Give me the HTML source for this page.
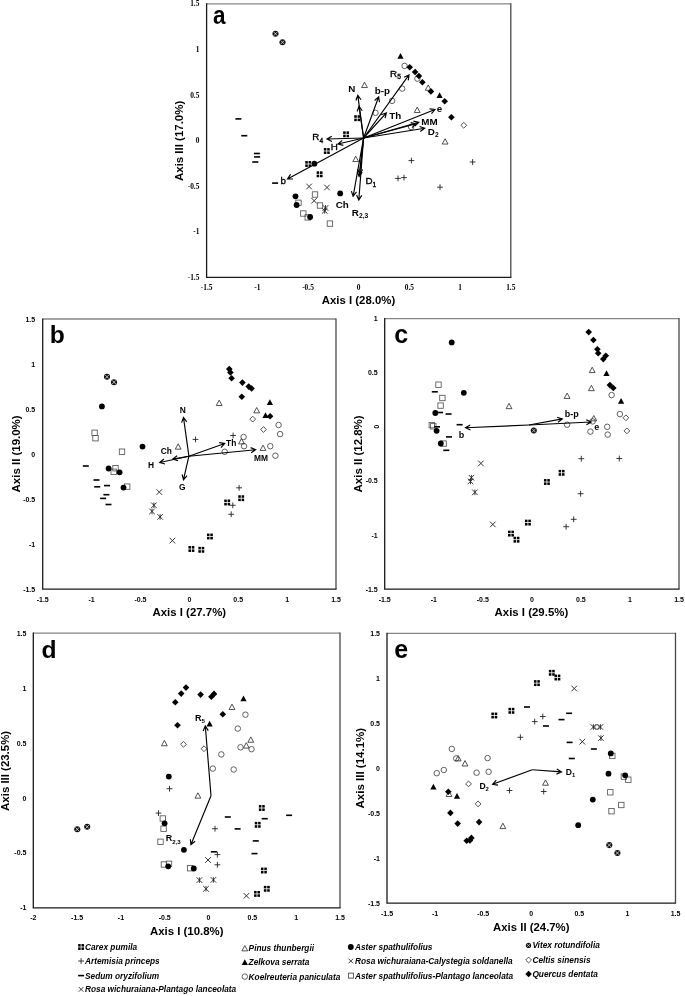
<!DOCTYPE html>
<html><head><meta charset="utf-8"><title>Ordination diagrams</title>
<style>html,body{margin:0;padding:0;background:#fff;}svg{display:block;}</style></head>
<body><svg width="685" height="996" viewBox="0 0 685 996">
<rect width="685" height="996" fill="#fff"/>
<text x="206.60" y="289.90" text-anchor="middle" font-family="Liberation Serif, Times New Roman, serif" font-size="7.4" font-weight="bold">-1.5</text>
<text x="257.30" y="289.90" text-anchor="middle" font-family="Liberation Serif, Times New Roman, serif" font-size="7.4" font-weight="bold">-1</text>
<text x="308.00" y="289.90" text-anchor="middle" font-family="Liberation Serif, Times New Roman, serif" font-size="7.4" font-weight="bold">-0.5</text>
<text x="358.70" y="289.90" text-anchor="middle" font-family="Liberation Serif, Times New Roman, serif" font-size="7.4" font-weight="bold">0</text>
<text x="409.40" y="289.90" text-anchor="middle" font-family="Liberation Serif, Times New Roman, serif" font-size="7.4" font-weight="bold">0.5</text>
<text x="460.10" y="289.90" text-anchor="middle" font-family="Liberation Serif, Times New Roman, serif" font-size="7.4" font-weight="bold">1</text>
<text x="510.80" y="289.90" text-anchor="middle" font-family="Liberation Serif, Times New Roman, serif" font-size="7.4" font-weight="bold">1.5</text>
<text x="199.40" y="6.40" text-anchor="end" font-family="Liberation Serif, Times New Roman, serif" font-size="7.4" font-weight="bold">1.5</text>
<text x="199.40" y="51.97" text-anchor="end" font-family="Liberation Serif, Times New Roman, serif" font-size="7.4" font-weight="bold">1</text>
<text x="199.40" y="97.53" text-anchor="end" font-family="Liberation Serif, Times New Roman, serif" font-size="7.4" font-weight="bold">0.5</text>
<text x="199.40" y="143.10" text-anchor="end" font-family="Liberation Serif, Times New Roman, serif" font-size="7.4" font-weight="bold">0</text>
<text x="199.40" y="188.67" text-anchor="end" font-family="Liberation Serif, Times New Roman, serif" font-size="7.4" font-weight="bold">-0.5</text>
<text x="199.40" y="234.23" text-anchor="end" font-family="Liberation Serif, Times New Roman, serif" font-size="7.4" font-weight="bold">-1</text>
<text x="199.40" y="279.80" text-anchor="end" font-family="Liberation Serif, Times New Roman, serif" font-size="7.4" font-weight="bold">-1.5</text>
<path d="M206.60 3.90H510.80" stroke="#858585" stroke-width="1.3" fill="none"/>
<path d="M510.80 3.30V277.30" stroke="#474747" stroke-width="1.3" fill="none"/>
<path d="M206.60 3.30V277.30H511.40" stroke="#1a1a1a" stroke-width="1.3" fill="none"/>
<text transform="translate(212.9 23.9) scale(0.9 1)" x="0" y="0" font-family="Liberation Sans, Arial, sans-serif" font-size="25" font-weight="bold">a</text>
<text x="358.5" y="304.4" text-anchor="middle" font-family="Liberation Sans, Arial, sans-serif" font-size="11.4" font-weight="bold" textLength="73.4" lengthAdjust="spacingAndGlyphs">Axis I (28.0%)</text>
<text transform="translate(183.10 140.90) rotate(-90)" x="0" y="0" text-anchor="middle" font-family="Liberation Sans, Arial, sans-serif" font-size="11.4" font-weight="bold" textLength="80.2" lengthAdjust="spacingAndGlyphs">Axis III (17.0%)</text>
<circle cx="275.50" cy="33.80" r="3.05" fill="#111"/><path d="M273.60 31.90L277.40 35.70M273.60 35.70L277.40 31.90" stroke="#fff" stroke-width="0.7"/>
<circle cx="282.50" cy="42.30" r="3.05" fill="#111"/><path d="M280.60 40.40L284.40 44.20M280.60 44.20L284.40 40.40" stroke="#fff" stroke-width="0.7"/>
<path d="M463.80 122.40L466.70 125.30L463.80 128.20L460.90 125.30Z" stroke="#333" stroke-width="0.85" fill="#fff"/>
<circle cx="404.60" cy="65.90" r="2.75" stroke="#444" stroke-width="0.85" fill="none"/>
<circle cx="417.40" cy="78.60" r="2.75" stroke="#444" stroke-width="0.85" fill="none"/>
<circle cx="402.20" cy="88.60" r="2.75" stroke="#444" stroke-width="0.85" fill="none"/>
<circle cx="392.10" cy="100.90" r="2.75" stroke="#444" stroke-width="0.85" fill="none"/>
<circle cx="375.50" cy="112.80" r="2.75" stroke="#444" stroke-width="0.85" fill="none"/>
<circle cx="411.10" cy="127.00" r="2.75" stroke="#444" stroke-width="0.85" fill="none"/>
<path d="M364.50 82.20L367.40 87.56L361.60 87.56Z" stroke="#333" stroke-width="0.85" fill="none"/>
<path d="M417.20 107.10L420.10 112.47L414.30 112.47Z" stroke="#333" stroke-width="0.85" fill="none"/>
<path d="M428.20 84.90L431.10 90.27L425.30 90.27Z" stroke="#333" stroke-width="0.85" fill="none"/>
<path d="M445.10 138.70L448.00 144.06L442.20 144.06Z" stroke="#333" stroke-width="0.85" fill="none"/>
<path d="M355.70 156.20L358.60 161.56L352.80 161.56Z" stroke="#333" stroke-width="0.85" fill="none"/>
<rect x="312.30" y="191.80" width="5.4" height="5.4" stroke="#555" stroke-width="0.85" fill="none"/>
<rect x="295.80" y="200.10" width="5.4" height="5.4" stroke="#555" stroke-width="0.85" fill="none"/>
<rect x="317.30" y="202.80" width="5.4" height="5.4" stroke="#555" stroke-width="0.85" fill="none"/>
<rect x="300.60" y="210.80" width="5.4" height="5.4" stroke="#555" stroke-width="0.85" fill="none"/>
<rect x="305.00" y="214.70" width="5.4" height="5.4" stroke="#555" stroke-width="0.85" fill="none"/>
<rect x="327.20" y="220.90" width="5.4" height="5.4" stroke="#555" stroke-width="0.85" fill="none"/>
<path d="M408.50 160.60H414.30M411.40 157.70V163.50" stroke="#222" stroke-width="0.9" fill="none"/>
<path d="M395.10 178.40H400.90M398.00 175.50V181.30" stroke="#222" stroke-width="0.9" fill="none"/>
<path d="M401.10 177.60H406.90M404.00 174.70V180.50" stroke="#222" stroke-width="0.9" fill="none"/>
<path d="M469.70 162.00H475.50M472.60 159.10V164.90" stroke="#222" stroke-width="0.9" fill="none"/>
<path d="M437.10 187.20H442.90M440.00 184.30V190.10" stroke="#222" stroke-width="0.9" fill="none"/>
<path d="M306.30 183.70L311.90 189.30M306.30 189.30L311.90 183.70" stroke="#2a2a2a" stroke-width="0.95" fill="none"/>
<path d="M324.20 184.70L329.80 190.30M324.20 190.30L329.80 184.70" stroke="#2a2a2a" stroke-width="0.95" fill="none"/>
<path d="M311.30 197.90L316.90 203.50M311.30 203.50L316.90 197.90" stroke="#2a2a2a" stroke-width="0.95" fill="none"/>
<path d="M322.70 205.20L328.30 210.80M322.70 210.80L328.30 205.20M325.50 205.20V210.80" stroke="#222" stroke-width="0.9" fill="none"/>
<path d="M321.90 208.10L327.50 213.70M321.90 213.70L327.50 208.10M324.70 208.10V213.70" stroke="#222" stroke-width="0.9" fill="none"/>
<rect x="235.40" y="118.10" width="6" height="1.6" fill="#000"/>
<rect x="241.30" y="134.90" width="6" height="1.6" fill="#000"/>
<rect x="253.90" y="152.70" width="6" height="1.6" fill="#000"/>
<rect x="254.10" y="156.10" width="6" height="1.6" fill="#000"/>
<rect x="252.30" y="161.20" width="6" height="1.6" fill="#000"/>
<rect x="272.10" y="182.30" width="6" height="1.6" fill="#000"/>
<g fill="#000"><rect x="354.25" y="115.25" width="2.55" height="2.55"/><rect x="354.25" y="118.60" width="2.55" height="2.55"/><rect x="357.60" y="115.25" width="2.55" height="2.55"/><rect x="357.60" y="118.60" width="2.55" height="2.55"/></g>
<g fill="#000"><rect x="343.15" y="131.35" width="2.55" height="2.55"/><rect x="343.15" y="134.70" width="2.55" height="2.55"/><rect x="346.50" y="131.35" width="2.55" height="2.55"/><rect x="346.50" y="134.70" width="2.55" height="2.55"/></g>
<g fill="#000"><rect x="323.85" y="148.05" width="2.55" height="2.55"/><rect x="323.85" y="151.40" width="2.55" height="2.55"/><rect x="327.20" y="148.05" width="2.55" height="2.55"/><rect x="327.20" y="151.40" width="2.55" height="2.55"/></g>
<g fill="#000"><rect x="305.25" y="161.05" width="2.55" height="2.55"/><rect x="305.25" y="164.40" width="2.55" height="2.55"/><rect x="308.60" y="161.05" width="2.55" height="2.55"/><rect x="308.60" y="164.40" width="2.55" height="2.55"/></g>
<g fill="#000"><rect x="316.65" y="171.35" width="2.55" height="2.55"/><rect x="316.65" y="174.70" width="2.55" height="2.55"/><rect x="320.00" y="171.35" width="2.55" height="2.55"/><rect x="320.00" y="174.70" width="2.55" height="2.55"/></g>
<path d="M400.50 52.90L403.60 58.63L397.40 58.63Z" fill="#000"/>
<path d="M439.60 92.30L442.70 98.04L436.50 98.04Z" fill="#000"/>
<circle cx="314.40" cy="163.70" r="2.9" fill="#000"/>
<circle cx="295.50" cy="196.30" r="2.9" fill="#000"/>
<circle cx="296.60" cy="205.00" r="2.9" fill="#000"/>
<circle cx="310.10" cy="217.00" r="2.9" fill="#000"/>
<circle cx="340.20" cy="193.40" r="2.9" fill="#000"/>
<path d="M409.70 63.90L413.00 67.20L409.70 70.50L406.40 67.20Z" fill="#000"/>
<path d="M415.10 68.70L418.40 72.00L415.10 75.30L411.80 72.00Z" fill="#000"/>
<path d="M418.90 72.70L422.20 76.00L418.90 79.30L415.60 76.00Z" fill="#000"/>
<path d="M422.40 78.90L425.70 82.20L422.40 85.50L419.10 82.20Z" fill="#000"/>
<path d="M430.90 88.10L434.20 91.40L430.90 94.70L427.60 91.40Z" fill="#000"/>
<path d="M444.70 97.90L448.00 101.20L444.70 104.50L441.40 101.20Z" fill="#000"/>
<path d="M451.40 113.90L454.70 117.20L451.40 120.50L448.10 117.20Z" fill="#000"/>
<path d="M363.60 138.00L327.00 139.00M331.92 141.45L327.00 139.00L331.78 136.29" stroke="#000" stroke-width="1.15" fill="none" stroke-linejoin="miter"/>
<path d="M363.60 138.00L338.00 144.00M343.32 145.41L338.00 144.00L342.14 140.38" stroke="#000" stroke-width="1.15" fill="none" stroke-linejoin="miter"/>
<path d="M363.60 138.00L287.50 179.00M293.00 178.97L287.50 179.00L290.55 174.42" stroke="#000" stroke-width="1.15" fill="none" stroke-linejoin="miter"/>
<path d="M363.60 138.00L357.80 95.30M355.90 100.46L357.80 95.30L361.01 99.76" stroke="#000" stroke-width="1.15" fill="none" stroke-linejoin="miter"/>
<path d="M363.60 138.00L359.00 106.30M357.14 111.48L359.00 106.30L362.25 110.74" stroke="#000" stroke-width="1.15" fill="none" stroke-linejoin="miter"/>
<path d="M363.60 138.00L378.70 96.80M374.60 100.47L378.70 96.80L379.45 102.25" stroke="#000" stroke-width="1.15" fill="none" stroke-linejoin="miter"/>
<path d="M363.60 138.00L409.00 74.90M404.07 77.33L409.00 74.90L408.26 80.35" stroke="#000" stroke-width="1.15" fill="none" stroke-linejoin="miter"/>
<path d="M363.60 138.00L386.40 112.80M381.23 114.67L386.40 112.80L385.06 118.13" stroke="#000" stroke-width="1.15" fill="none" stroke-linejoin="miter"/>
<path d="M363.60 138.00L435.00 109.50M429.53 108.90L435.00 109.50L431.45 113.70" stroke="#000" stroke-width="1.15" fill="none" stroke-linejoin="miter"/>
<path d="M363.60 138.00L418.80 122.30M413.42 121.14L418.80 122.30L414.84 126.11" stroke="#000" stroke-width="1.15" fill="none" stroke-linejoin="miter"/>
<path d="M363.60 138.00L416.00 123.80M410.64 122.58L416.00 123.80L411.99 127.56" stroke="#000" stroke-width="1.15" fill="none" stroke-linejoin="miter"/>
<path d="M363.60 138.00L424.70 128.20M419.50 126.42L424.70 128.20L420.31 131.52" stroke="#000" stroke-width="1.15" fill="none" stroke-linejoin="miter"/>
<path d="M363.60 138.00L359.10 176.60M362.23 172.08L359.10 176.60L357.10 171.48" stroke="#000" stroke-width="1.15" fill="none" stroke-linejoin="miter"/>
<path d="M363.60 138.00L359.60 174.00M362.70 169.46L359.60 174.00L357.57 168.89" stroke="#000" stroke-width="1.15" fill="none" stroke-linejoin="miter"/>
<path d="M363.60 138.00L353.10 196.30M356.50 191.98L353.10 196.30L351.42 191.06" stroke="#000" stroke-width="1.15" fill="none" stroke-linejoin="miter"/>
<path d="M363.60 138.00L358.80 200.00M361.75 195.36L358.80 200.00L356.60 194.96" stroke="#000" stroke-width="1.15" fill="none" stroke-linejoin="miter"/>
<text x="312.36" y="140.43" font-family="Liberation Sans, Arial, sans-serif" font-size="9.8" font-weight="normal" stroke="#000" stroke-width="0.35">R<tspan font-size="6.66" dy="2.35">4</tspan></text>
<text x="334.30" y="150.43" text-anchor="middle" font-family="Liberation Sans, Arial, sans-serif" font-size="9.8" font-weight="normal" stroke="#000" stroke-width="0.35">H</text>
<text x="283.30" y="183.73" text-anchor="middle" font-family="Liberation Sans, Arial, sans-serif" font-size="9.8" font-weight="normal" stroke="#000" stroke-width="0.35">b</text>
<text x="351.70" y="92.03" text-anchor="middle" font-family="Liberation Sans, Arial, sans-serif" font-size="9.8" font-weight="bold">N</text>
<text x="382.30" y="93.53" text-anchor="middle" font-family="Liberation Sans, Arial, sans-serif" font-size="9.8" font-weight="bold">b-p</text>
<text x="390.06" y="76.63" font-family="Liberation Sans, Arial, sans-serif" font-size="9.8" font-weight="normal" stroke="#000" stroke-width="0.35">R<tspan font-size="6.66" dy="2.35">5</tspan></text>
<text x="395.20" y="118.83" text-anchor="middle" font-family="Liberation Sans, Arial, sans-serif" font-size="9.8" font-weight="bold">Th</text>
<text x="439.50" y="111.83" text-anchor="middle" font-family="Liberation Sans, Arial, sans-serif" font-size="9.8" font-weight="bold">e</text>
<text x="429.50" y="125.13" text-anchor="middle" font-family="Liberation Sans, Arial, sans-serif" font-size="9.8" font-weight="bold">MM</text>
<text x="427.86" y="134.53" font-family="Liberation Sans, Arial, sans-serif" font-size="9.8" font-weight="bold">D<tspan font-size="6.66" dy="2.35">2</tspan></text>
<text x="365.46" y="184.43" font-family="Liberation Sans, Arial, sans-serif" font-size="9.8" font-weight="normal" stroke="#000" stroke-width="0.35">D<tspan font-size="6.66" dy="2.35">1</tspan></text>
<text x="342.20" y="208.13" text-anchor="middle" font-family="Liberation Sans, Arial, sans-serif" font-size="9.8" font-weight="bold">Ch</text>
<text x="351.86" y="216.13" font-family="Liberation Sans, Arial, sans-serif" font-size="9.8" font-weight="bold">R<tspan font-size="6.66" dy="2.35">2,3</tspan></text>
<text x="42.70" y="601.60" text-anchor="middle" font-family="Liberation Sans, Arial, sans-serif" font-size="7" font-weight="bold">-1.5</text>
<text x="91.58" y="601.60" text-anchor="middle" font-family="Liberation Sans, Arial, sans-serif" font-size="7" font-weight="bold">-1</text>
<text x="140.47" y="601.60" text-anchor="middle" font-family="Liberation Sans, Arial, sans-serif" font-size="7" font-weight="bold">-0.5</text>
<text x="189.35" y="601.60" text-anchor="middle" font-family="Liberation Sans, Arial, sans-serif" font-size="7" font-weight="bold">0</text>
<text x="238.23" y="601.60" text-anchor="middle" font-family="Liberation Sans, Arial, sans-serif" font-size="7" font-weight="bold">0.5</text>
<text x="287.12" y="601.60" text-anchor="middle" font-family="Liberation Sans, Arial, sans-serif" font-size="7" font-weight="bold">1</text>
<text x="336.00" y="601.60" text-anchor="middle" font-family="Liberation Sans, Arial, sans-serif" font-size="7" font-weight="bold">1.5</text>
<text x="35.20" y="321.50" text-anchor="end" font-family="Liberation Sans, Arial, sans-serif" font-size="7" font-weight="bold">1.5</text>
<text x="35.20" y="366.52" text-anchor="end" font-family="Liberation Sans, Arial, sans-serif" font-size="7" font-weight="bold">1</text>
<text x="35.20" y="411.53" text-anchor="end" font-family="Liberation Sans, Arial, sans-serif" font-size="7" font-weight="bold">0.5</text>
<text x="35.20" y="456.55" text-anchor="end" font-family="Liberation Sans, Arial, sans-serif" font-size="7" font-weight="bold">0</text>
<text x="35.20" y="501.57" text-anchor="end" font-family="Liberation Sans, Arial, sans-serif" font-size="7" font-weight="bold">-0.5</text>
<text x="35.20" y="546.58" text-anchor="end" font-family="Liberation Sans, Arial, sans-serif" font-size="7" font-weight="bold">-1</text>
<text x="35.20" y="591.60" text-anchor="end" font-family="Liberation Sans, Arial, sans-serif" font-size="7" font-weight="bold">-1.5</text>
<path d="M42.70 319.00H336.00" stroke="#858585" stroke-width="1.3" fill="none"/>
<path d="M336.00 318.40V589.10" stroke="#474747" stroke-width="1.3" fill="none"/>
<path d="M42.70 318.40V589.10H336.60" stroke="#1a1a1a" stroke-width="1.3" fill="none"/>
<text x="49.8" y="343.3" font-family="Liberation Sans, Arial, sans-serif" font-size="24.6" font-weight="bold">b</text>
<text x="189.3" y="616.1" text-anchor="middle" font-family="Liberation Sans, Arial, sans-serif" font-size="11.4" font-weight="bold" textLength="73.6" lengthAdjust="spacingAndGlyphs">Axis I (27.7%)</text>
<text transform="translate(20.30 453.90) rotate(-90)" x="0" y="0" text-anchor="middle" font-family="Liberation Sans, Arial, sans-serif" font-size="11.4" font-weight="bold" textLength="77" lengthAdjust="spacingAndGlyphs">Axis II (19.0%)</text>
<circle cx="107.00" cy="376.80" r="3.05" fill="#111"/><path d="M105.10 374.90L108.90 378.70M105.10 378.70L108.90 374.90" stroke="#fff" stroke-width="0.7"/>
<circle cx="114.00" cy="382.20" r="3.05" fill="#111"/><path d="M112.10 380.30L115.90 384.10M112.10 384.10L115.90 380.30" stroke="#fff" stroke-width="0.7"/>
<path d="M252.70 416.20L255.60 419.10L252.70 422.00L249.80 419.10Z" stroke="#333" stroke-width="0.85" fill="#fff"/>
<path d="M263.50 426.60L266.40 429.50L263.50 432.40L260.60 429.50Z" stroke="#333" stroke-width="0.85" fill="#fff"/>
<circle cx="224.70" cy="451.80" r="2.75" stroke="#444" stroke-width="0.85" fill="none"/>
<circle cx="278.60" cy="425.00" r="2.75" stroke="#444" stroke-width="0.85" fill="none"/>
<circle cx="280.10" cy="434.10" r="2.75" stroke="#444" stroke-width="0.85" fill="none"/>
<circle cx="243.60" cy="437.00" r="2.75" stroke="#444" stroke-width="0.85" fill="none"/>
<circle cx="244.00" cy="446.20" r="2.75" stroke="#444" stroke-width="0.85" fill="none"/>
<circle cx="270.30" cy="446.20" r="2.75" stroke="#444" stroke-width="0.85" fill="none"/>
<circle cx="275.40" cy="455.70" r="2.75" stroke="#444" stroke-width="0.85" fill="none"/>
<path d="M219.20 400.10L222.10 405.46L216.30 405.46Z" stroke="#333" stroke-width="0.85" fill="none"/>
<path d="M178.20 443.80L181.10 449.16L175.30 449.16Z" stroke="#333" stroke-width="0.85" fill="none"/>
<path d="M256.70 407.50L259.60 412.86L253.80 412.86Z" stroke="#333" stroke-width="0.85" fill="none"/>
<path d="M241.50 438.50L244.40 443.86L238.60 443.86Z" stroke="#333" stroke-width="0.85" fill="none"/>
<path d="M263.00 445.10L265.90 450.46L260.10 450.46Z" stroke="#333" stroke-width="0.85" fill="none"/>
<rect x="91.90" y="430.10" width="5.4" height="5.4" stroke="#555" stroke-width="0.85" fill="none"/>
<rect x="92.80" y="435.50" width="5.4" height="5.4" stroke="#555" stroke-width="0.85" fill="none"/>
<rect x="119.30" y="449.00" width="5.4" height="5.4" stroke="#555" stroke-width="0.85" fill="none"/>
<rect x="112.80" y="465.50" width="5.4" height="5.4" stroke="#555" stroke-width="0.85" fill="none"/>
<rect x="111.00" y="469.10" width="5.4" height="5.4" stroke="#555" stroke-width="0.85" fill="none"/>
<rect x="124.50" y="483.90" width="5.4" height="5.4" stroke="#555" stroke-width="0.85" fill="none"/>
<path d="M192.60 439.40H198.40M195.50 436.50V442.30" stroke="#222" stroke-width="0.9" fill="none"/>
<path d="M230.20 435.50H236.00M233.10 432.60V438.40" stroke="#222" stroke-width="0.9" fill="none"/>
<path d="M236.20 487.80H242.00M239.10 484.90V490.70" stroke="#222" stroke-width="0.9" fill="none"/>
<path d="M229.90 505.30H235.70M232.80 502.40V508.20" stroke="#222" stroke-width="0.9" fill="none"/>
<path d="M228.30 514.30H234.10M231.20 511.40V517.20" stroke="#222" stroke-width="0.9" fill="none"/>
<path d="M156.50 489.30L162.10 494.90M156.50 494.90L162.10 489.30" stroke="#2a2a2a" stroke-width="0.95" fill="none"/>
<path d="M169.60 537.80L175.20 543.40M169.60 543.40L175.20 537.80" stroke="#2a2a2a" stroke-width="0.95" fill="none"/>
<path d="M151.10 502.50L156.70 508.10M151.10 508.10L156.70 502.50M153.90 502.50V508.10" stroke="#222" stroke-width="0.9" fill="none"/>
<path d="M149.20 508.60L154.80 514.20M149.20 514.20L154.80 508.60M152.00 508.60V514.20" stroke="#222" stroke-width="0.9" fill="none"/>
<path d="M157.30 514.10L162.90 519.70M157.30 519.70L162.90 514.10M160.10 514.10V519.70" stroke="#222" stroke-width="0.9" fill="none"/>
<rect x="82.80" y="465.20" width="6" height="1.6" fill="#000"/>
<rect x="93.50" y="479.20" width="6" height="1.6" fill="#000"/>
<rect x="94.20" y="486.00" width="6" height="1.6" fill="#000"/>
<rect x="104.00" y="484.80" width="6" height="1.6" fill="#000"/>
<rect x="103.40" y="493.90" width="6" height="1.6" fill="#000"/>
<rect x="100.10" y="497.60" width="6" height="1.6" fill="#000"/>
<rect x="105.50" y="503.70" width="6" height="1.6" fill="#000"/>
<g fill="#000"><rect x="224.25" y="499.55" width="2.55" height="2.55"/><rect x="224.25" y="502.90" width="2.55" height="2.55"/><rect x="227.60" y="499.55" width="2.55" height="2.55"/><rect x="227.60" y="502.90" width="2.55" height="2.55"/></g>
<g fill="#000"><rect x="238.25" y="495.25" width="2.55" height="2.55"/><rect x="238.25" y="498.60" width="2.55" height="2.55"/><rect x="241.60" y="495.25" width="2.55" height="2.55"/><rect x="241.60" y="498.60" width="2.55" height="2.55"/></g>
<g fill="#000"><rect x="206.95" y="533.55" width="2.55" height="2.55"/><rect x="206.95" y="536.90" width="2.55" height="2.55"/><rect x="210.30" y="533.55" width="2.55" height="2.55"/><rect x="210.30" y="536.90" width="2.55" height="2.55"/></g>
<g fill="#000"><rect x="188.45" y="546.05" width="2.55" height="2.55"/><rect x="188.45" y="549.40" width="2.55" height="2.55"/><rect x="191.80" y="546.05" width="2.55" height="2.55"/><rect x="191.80" y="549.40" width="2.55" height="2.55"/></g>
<g fill="#000"><rect x="198.35" y="546.85" width="2.55" height="2.55"/><rect x="198.35" y="550.20" width="2.55" height="2.55"/><rect x="201.70" y="546.85" width="2.55" height="2.55"/><rect x="201.70" y="550.20" width="2.55" height="2.55"/></g>
<path d="M269.90 399.20L273.00 404.94L266.80 404.94Z" fill="#000"/>
<path d="M265.50 412.20L268.60 417.94L262.40 417.94Z" fill="#000"/>
<circle cx="101.90" cy="406.40" r="2.9" fill="#000"/>
<circle cx="142.50" cy="446.60" r="2.9" fill="#000"/>
<circle cx="108.60" cy="468.50" r="2.9" fill="#000"/>
<circle cx="119.60" cy="472.30" r="2.9" fill="#000"/>
<circle cx="123.50" cy="487.60" r="2.9" fill="#000"/>
<path d="M229.30 365.80L232.60 369.10L229.30 372.40L226.00 369.10Z" fill="#000"/>
<path d="M230.40 369.10L233.70 372.40L230.40 375.70L227.10 372.40Z" fill="#000"/>
<path d="M231.60 374.90L234.90 378.20L231.60 381.50L228.30 378.20Z" fill="#000"/>
<path d="M242.40 379.30L245.70 382.60L242.40 385.90L239.10 382.60Z" fill="#000"/>
<path d="M248.70 383.30L252.00 386.60L248.70 389.90L245.40 386.60Z" fill="#000"/>
<path d="M251.60 385.20L254.90 388.50L251.60 391.80L248.30 388.50Z" fill="#000"/>
<path d="M241.80 393.50L245.10 396.80L241.80 400.10L238.50 396.80Z" fill="#000"/>
<path d="M270.10 413.00L273.40 416.30L270.10 419.60L266.80 416.30Z" fill="#000"/>
<path d="M188.90 456.20L183.50 417.50M181.61 422.67L183.50 417.50L186.73 421.95" stroke="#000" stroke-width="1.15" fill="none" stroke-linejoin="miter"/>
<path d="M188.90 456.20L224.70 443.50M219.26 442.69L224.70 443.50L220.99 447.56" stroke="#000" stroke-width="1.15" fill="none" stroke-linejoin="miter"/>
<path d="M188.90 456.20L255.70 449.70M250.62 447.60L255.70 449.70L251.12 452.74" stroke="#000" stroke-width="1.15" fill="none" stroke-linejoin="miter"/>
<path d="M188.90 456.20L172.80 459.10M178.04 460.78L172.80 459.10L177.12 455.70" stroke="#000" stroke-width="1.15" fill="none" stroke-linejoin="miter"/>
<path d="M188.90 456.20L159.70 462.50M164.99 464.00L159.70 462.50L163.90 458.95" stroke="#000" stroke-width="1.15" fill="none" stroke-linejoin="miter"/>
<path d="M188.90 456.20L183.50 479.70M187.10 475.55L183.50 479.70L182.07 474.39" stroke="#000" stroke-width="1.15" fill="none" stroke-linejoin="miter"/>
<text x="182.80" y="413.22" text-anchor="middle" font-family="Liberation Sans, Arial, sans-serif" font-size="8.4" font-weight="bold">N</text>
<text x="231.20" y="445.82" text-anchor="middle" font-family="Liberation Sans, Arial, sans-serif" font-size="8.4" font-weight="bold">Th</text>
<text x="261.10" y="461.22" text-anchor="middle" font-family="Liberation Sans, Arial, sans-serif" font-size="8.4" font-weight="bold">MM</text>
<text x="166.30" y="453.82" text-anchor="middle" font-family="Liberation Sans, Arial, sans-serif" font-size="8.4" font-weight="bold">Ch</text>
<text x="151.10" y="468.42" text-anchor="middle" font-family="Liberation Sans, Arial, sans-serif" font-size="8.4" font-weight="bold">H</text>
<text x="182.30" y="490.02" text-anchor="middle" font-family="Liberation Sans, Arial, sans-serif" font-size="8.4" font-weight="bold">G</text>
<text x="384.70" y="601.70" text-anchor="middle" font-family="Liberation Sans, Arial, sans-serif" font-size="7" font-weight="bold">-1.5</text>
<text x="433.75" y="601.70" text-anchor="middle" font-family="Liberation Sans, Arial, sans-serif" font-size="7" font-weight="bold">-1</text>
<text x="482.80" y="601.70" text-anchor="middle" font-family="Liberation Sans, Arial, sans-serif" font-size="7" font-weight="bold">-0.5</text>
<text x="531.85" y="601.70" text-anchor="middle" font-family="Liberation Sans, Arial, sans-serif" font-size="7" font-weight="bold">0</text>
<text x="580.90" y="601.70" text-anchor="middle" font-family="Liberation Sans, Arial, sans-serif" font-size="7" font-weight="bold">0.5</text>
<text x="629.95" y="601.70" text-anchor="middle" font-family="Liberation Sans, Arial, sans-serif" font-size="7" font-weight="bold">1</text>
<text x="679.00" y="601.70" text-anchor="middle" font-family="Liberation Sans, Arial, sans-serif" font-size="7" font-weight="bold">1.5</text>
<text x="377.70" y="321.10" text-anchor="end" font-family="Liberation Sans, Arial, sans-serif" font-size="7" font-weight="bold">1</text>
<text x="377.70" y="375.20" text-anchor="end" font-family="Liberation Sans, Arial, sans-serif" font-size="7" font-weight="bold">0.5</text>
<text transform="translate(375.70 426.80) rotate(90)" x="0" y="1.8" text-anchor="middle" font-family="Liberation Sans, Arial, sans-serif" font-size="7" font-weight="bold">0</text>
<text x="377.70" y="483.40" text-anchor="end" font-family="Liberation Sans, Arial, sans-serif" font-size="7" font-weight="bold">-0.5</text>
<text x="377.70" y="537.50" text-anchor="end" font-family="Liberation Sans, Arial, sans-serif" font-size="7" font-weight="bold">-1</text>
<text x="377.70" y="591.60" text-anchor="end" font-family="Liberation Sans, Arial, sans-serif" font-size="7" font-weight="bold">-1.5</text>
<path d="M384.70 318.60H679.00" stroke="#858585" stroke-width="1.3" fill="none"/>
<path d="M679.00 318.00V589.10" stroke="#474747" stroke-width="1.3" fill="none"/>
<path d="M384.70 318.00V589.10H679.60" stroke="#1a1a1a" stroke-width="1.3" fill="none"/>
<text x="394.2" y="343.3" font-family="Liberation Sans, Arial, sans-serif" font-size="25" font-weight="bold">c</text>
<text x="531.4" y="616.1" text-anchor="middle" font-family="Liberation Sans, Arial, sans-serif" font-size="11.4" font-weight="bold" textLength="73.6" lengthAdjust="spacingAndGlyphs">Axis I (29.5%)</text>
<text transform="translate(361.60 453.90) rotate(-90)" x="0" y="0" text-anchor="middle" font-family="Liberation Sans, Arial, sans-serif" font-size="11.4" font-weight="bold" textLength="77" lengthAdjust="spacingAndGlyphs">Axis II (12.8%)</text>
<circle cx="533.80" cy="430.50" r="3.05" fill="#111"/><path d="M531.90 428.60L535.70 432.40M531.90 432.40L535.70 428.60" stroke="#fff" stroke-width="0.7"/>
<path d="M625.90 414.90L628.80 417.80L625.90 420.70L623.00 417.80Z" stroke="#333" stroke-width="0.85" fill="#fff"/>
<path d="M626.90 428.00L629.80 430.90L626.90 433.80L624.00 430.90Z" stroke="#333" stroke-width="0.85" fill="#fff"/>
<circle cx="567.10" cy="424.70" r="2.75" stroke="#444" stroke-width="0.85" fill="none"/>
<circle cx="611.60" cy="395.10" r="2.75" stroke="#444" stroke-width="0.85" fill="none"/>
<circle cx="619.90" cy="414.10" r="2.75" stroke="#444" stroke-width="0.85" fill="none"/>
<circle cx="592.60" cy="421.40" r="2.75" stroke="#444" stroke-width="0.85" fill="none"/>
<circle cx="590.40" cy="431.60" r="2.75" stroke="#444" stroke-width="0.85" fill="none"/>
<circle cx="607.20" cy="426.80" r="2.75" stroke="#444" stroke-width="0.85" fill="none"/>
<circle cx="607.70" cy="434.60" r="2.75" stroke="#444" stroke-width="0.85" fill="none"/>
<path d="M509.00 403.30L511.90 408.66L506.10 408.66Z" stroke="#333" stroke-width="0.85" fill="none"/>
<path d="M567.10 393.10L570.00 398.46L564.20 398.46Z" stroke="#333" stroke-width="0.85" fill="none"/>
<path d="M592.20 367.20L595.10 372.56L589.30 372.56Z" stroke="#333" stroke-width="0.85" fill="none"/>
<path d="M591.40 385.30L594.30 390.66L588.50 390.66Z" stroke="#333" stroke-width="0.85" fill="none"/>
<path d="M593.80 415.50L596.70 420.86L590.90 420.86Z" stroke="#333" stroke-width="0.85" fill="none"/>
<rect x="435.80" y="382.00" width="5.4" height="5.4" stroke="#555" stroke-width="0.85" fill="none"/>
<rect x="439.70" y="395.30" width="5.4" height="5.4" stroke="#555" stroke-width="0.85" fill="none"/>
<rect x="437.90" y="402.90" width="5.4" height="5.4" stroke="#555" stroke-width="0.85" fill="none"/>
<rect x="429.10" y="422.40" width="5.4" height="5.4" stroke="#555" stroke-width="0.85" fill="none"/>
<rect x="430.60" y="423.60" width="5.4" height="5.4" stroke="#555" stroke-width="0.85" fill="none"/>
<rect x="440.90" y="440.90" width="5.4" height="5.4" stroke="#555" stroke-width="0.85" fill="none"/>
<path d="M578.40 458.70H584.20M581.30 455.80V461.60" stroke="#222" stroke-width="0.9" fill="none"/>
<path d="M616.40 458.50H622.20M619.30 455.60V461.40" stroke="#222" stroke-width="0.9" fill="none"/>
<path d="M577.70 493.70H583.50M580.60 490.80V496.60" stroke="#222" stroke-width="0.9" fill="none"/>
<path d="M563.20 526.70H569.00M566.10 523.80V529.60" stroke="#222" stroke-width="0.9" fill="none"/>
<path d="M570.80 519.30H576.60M573.70 516.40V522.20" stroke="#222" stroke-width="0.9" fill="none"/>
<path d="M478.10 460.60L483.70 466.20M478.10 466.20L483.70 460.60" stroke="#2a2a2a" stroke-width="0.95" fill="none"/>
<path d="M490.00 521.60L495.60 527.20M490.00 527.20L495.60 521.60" stroke="#2a2a2a" stroke-width="0.95" fill="none"/>
<path d="M468.60 474.90L474.20 480.50M468.60 480.50L474.20 474.90M471.40 474.90V480.50" stroke="#222" stroke-width="0.9" fill="none"/>
<path d="M467.70 478.60L473.30 484.20M467.70 484.20L473.30 478.60M470.50 478.60V484.20" stroke="#222" stroke-width="0.9" fill="none"/>
<path d="M472.10 489.50L477.70 495.10M472.10 495.10L477.70 489.50M474.90 489.50V495.10" stroke="#222" stroke-width="0.9" fill="none"/>
<rect x="431.80" y="391.00" width="6" height="1.6" fill="#000"/>
<rect x="437.00" y="411.70" width="6" height="1.6" fill="#000"/>
<rect x="445.60" y="413.20" width="6" height="1.6" fill="#000"/>
<rect x="434.00" y="426.00" width="6" height="1.6" fill="#000"/>
<rect x="456.60" y="423.90" width="6" height="1.6" fill="#000"/>
<rect x="446.00" y="436.10" width="6" height="1.6" fill="#000"/>
<rect x="443.30" y="449.50" width="6" height="1.6" fill="#000"/>
<g fill="#000"><rect x="543.95" y="479.05" width="2.55" height="2.55"/><rect x="543.95" y="482.40" width="2.55" height="2.55"/><rect x="547.30" y="479.05" width="2.55" height="2.55"/><rect x="547.30" y="482.40" width="2.55" height="2.55"/></g>
<g fill="#000"><rect x="558.65" y="469.85" width="2.55" height="2.55"/><rect x="558.65" y="473.20" width="2.55" height="2.55"/><rect x="562.00" y="469.85" width="2.55" height="2.55"/><rect x="562.00" y="473.20" width="2.55" height="2.55"/></g>
<g fill="#000"><rect x="524.95" y="519.65" width="2.55" height="2.55"/><rect x="524.95" y="523.00" width="2.55" height="2.55"/><rect x="528.30" y="519.65" width="2.55" height="2.55"/><rect x="528.30" y="523.00" width="2.55" height="2.55"/></g>
<g fill="#000"><rect x="508.05" y="530.65" width="2.55" height="2.55"/><rect x="508.05" y="534.00" width="2.55" height="2.55"/><rect x="511.40" y="530.65" width="2.55" height="2.55"/><rect x="511.40" y="534.00" width="2.55" height="2.55"/></g>
<g fill="#000"><rect x="513.55" y="536.75" width="2.55" height="2.55"/><rect x="513.55" y="540.10" width="2.55" height="2.55"/><rect x="516.90" y="536.75" width="2.55" height="2.55"/><rect x="516.90" y="540.10" width="2.55" height="2.55"/></g>
<path d="M606.50 370.20L609.60 375.94L603.40 375.94Z" fill="#000"/>
<path d="M621.10 397.90L624.20 403.63L618.00 403.63Z" fill="#000"/>
<circle cx="451.70" cy="342.40" r="2.9" fill="#000"/>
<circle cx="463.80" cy="392.80" r="2.9" fill="#000"/>
<circle cx="435.30" cy="413.00" r="2.9" fill="#000"/>
<circle cx="436.60" cy="430.80" r="2.9" fill="#000"/>
<circle cx="440.80" cy="443.50" r="2.9" fill="#000"/>
<path d="M588.70 328.80L592.00 332.10L588.70 335.40L585.40 332.10Z" fill="#000"/>
<path d="M593.40 336.70L596.70 340.00L593.40 343.30L590.10 340.00Z" fill="#000"/>
<path d="M597.40 345.90L600.70 349.20L597.40 352.50L594.10 349.20Z" fill="#000"/>
<path d="M598.20 350.00L601.50 353.30L598.20 356.60L594.90 353.30Z" fill="#000"/>
<path d="M603.30 355.80L606.60 359.10L603.30 362.40L600.00 359.10Z" fill="#000"/>
<path d="M605.80 352.50L609.10 355.80L605.80 359.10L602.50 355.80Z" fill="#000"/>
<path d="M609.90 381.80L613.20 385.10L609.90 388.40L606.60 385.10Z" fill="#000"/>
<path d="M613.30 384.70L616.60 388.00L613.30 391.30L610.00 388.00Z" fill="#000"/>
<path d="M529.00 425.00L465.50 427.70M470.46 430.07L465.50 427.70L470.24 424.91" stroke="#000" stroke-width="1.15" fill="none" stroke-linejoin="miter"/>
<path d="M529.00 425.00L562.30 418.90M557.06 417.24L562.30 418.90L557.99 422.31" stroke="#000" stroke-width="1.15" fill="none" stroke-linejoin="miter"/>
<path d="M529.00 425.00L591.20 422.00M586.23 419.65L591.20 422.00L586.47 424.81" stroke="#000" stroke-width="1.15" fill="none" stroke-linejoin="miter"/>
<text x="571.80" y="416.74" text-anchor="middle" font-family="Liberation Sans, Arial, sans-serif" font-size="9" font-weight="bold">b-p</text>
<text x="461.40" y="438.24" text-anchor="middle" font-family="Liberation Sans, Arial, sans-serif" font-size="9" font-weight="bold">b</text>
<text x="596.70" y="430.04" text-anchor="middle" font-family="Liberation Sans, Arial, sans-serif" font-size="9" font-weight="bold">e</text>
<text x="33.30" y="920.30" text-anchor="middle" font-family="Liberation Sans, Arial, sans-serif" font-size="7" font-weight="bold">-2</text>
<text x="77.11" y="920.30" text-anchor="middle" font-family="Liberation Sans, Arial, sans-serif" font-size="7" font-weight="bold">-1.5</text>
<text x="120.93" y="920.30" text-anchor="middle" font-family="Liberation Sans, Arial, sans-serif" font-size="7" font-weight="bold">-1</text>
<text x="164.74" y="920.30" text-anchor="middle" font-family="Liberation Sans, Arial, sans-serif" font-size="7" font-weight="bold">-0.5</text>
<text x="208.56" y="920.30" text-anchor="middle" font-family="Liberation Sans, Arial, sans-serif" font-size="7" font-weight="bold">0</text>
<text x="252.37" y="920.30" text-anchor="middle" font-family="Liberation Sans, Arial, sans-serif" font-size="7" font-weight="bold">0.5</text>
<text x="296.19" y="920.30" text-anchor="middle" font-family="Liberation Sans, Arial, sans-serif" font-size="7" font-weight="bold">1</text>
<text x="340.00" y="920.30" text-anchor="middle" font-family="Liberation Sans, Arial, sans-serif" font-size="7" font-weight="bold">1.5</text>
<text x="26.40" y="635.70" text-anchor="end" font-family="Liberation Sans, Arial, sans-serif" font-size="7" font-weight="bold">1.5</text>
<text x="26.40" y="690.64" text-anchor="end" font-family="Liberation Sans, Arial, sans-serif" font-size="7" font-weight="bold">1</text>
<text x="26.40" y="745.58" text-anchor="end" font-family="Liberation Sans, Arial, sans-serif" font-size="7" font-weight="bold">0.5</text>
<text x="26.40" y="800.52" text-anchor="end" font-family="Liberation Sans, Arial, sans-serif" font-size="7" font-weight="bold">0</text>
<text x="26.40" y="855.46" text-anchor="end" font-family="Liberation Sans, Arial, sans-serif" font-size="7" font-weight="bold">-0.5</text>
<text x="26.40" y="910.40" text-anchor="end" font-family="Liberation Sans, Arial, sans-serif" font-size="7" font-weight="bold">-1</text>
<path d="M33.30 633.20H340.00" stroke="#858585" stroke-width="1.3" fill="none"/>
<path d="M340.00 632.60V907.90" stroke="#474747" stroke-width="1.3" fill="none"/>
<path d="M33.30 632.60V907.90H340.60" stroke="#1a1a1a" stroke-width="1.3" fill="none"/>
<text x="41.6" y="658.3" font-family="Liberation Sans, Arial, sans-serif" font-size="24.6" font-weight="bold">d</text>
<text x="186.7" y="934.9" text-anchor="middle" font-family="Liberation Sans, Arial, sans-serif" font-size="11.4" font-weight="bold" textLength="73.6" lengthAdjust="spacingAndGlyphs">Axis I (10.8%)</text>
<text transform="translate(9.30 770.90) rotate(-90)" x="0" y="0" text-anchor="middle" font-family="Liberation Sans, Arial, sans-serif" font-size="11.4" font-weight="bold" textLength="80" lengthAdjust="spacingAndGlyphs">Axis III (23.5%)</text>
<circle cx="77.30" cy="829.30" r="3.05" fill="#111"/><path d="M75.40 827.40L79.20 831.20M75.40 831.20L79.20 827.40" stroke="#fff" stroke-width="0.7"/>
<circle cx="87.20" cy="826.80" r="3.05" fill="#111"/><path d="M85.30 824.90L89.10 828.70M85.30 828.70L89.10 824.90" stroke="#fff" stroke-width="0.7"/>
<path d="M183.50 741.40L186.40 744.30L183.50 747.20L180.60 744.30Z" stroke="#333" stroke-width="0.85" fill="#fff"/>
<path d="M204.00 745.80L206.90 748.70L204.00 751.60L201.10 748.70Z" stroke="#333" stroke-width="0.85" fill="#fff"/>
<circle cx="245.40" cy="714.70" r="2.75" stroke="#444" stroke-width="0.85" fill="none"/>
<circle cx="237.80" cy="728.60" r="2.75" stroke="#444" stroke-width="0.85" fill="none"/>
<circle cx="240.50" cy="747.30" r="2.75" stroke="#444" stroke-width="0.85" fill="none"/>
<circle cx="251.50" cy="749.20" r="2.75" stroke="#444" stroke-width="0.85" fill="none"/>
<circle cx="221.30" cy="754.40" r="2.75" stroke="#444" stroke-width="0.85" fill="none"/>
<circle cx="212.80" cy="768.60" r="2.75" stroke="#444" stroke-width="0.85" fill="none"/>
<circle cx="233.70" cy="769.50" r="2.75" stroke="#444" stroke-width="0.85" fill="none"/>
<path d="M232.00 704.10L234.90 709.47L229.10 709.47Z" stroke="#333" stroke-width="0.85" fill="none"/>
<path d="M164.40 740.40L167.30 745.76L161.50 745.76Z" stroke="#333" stroke-width="0.85" fill="none"/>
<path d="M250.80 736.90L253.70 742.26L247.90 742.26Z" stroke="#333" stroke-width="0.85" fill="none"/>
<path d="M246.30 742.70L249.20 748.07L243.40 748.07Z" stroke="#333" stroke-width="0.85" fill="none"/>
<path d="M197.90 792.80L200.80 798.17L195.00 798.17Z" stroke="#333" stroke-width="0.85" fill="none"/>
<rect x="160.10" y="815.80" width="5.4" height="5.4" stroke="#555" stroke-width="0.85" fill="none"/>
<rect x="160.90" y="826.00" width="5.4" height="5.4" stroke="#555" stroke-width="0.85" fill="none"/>
<rect x="157.80" y="839.10" width="5.4" height="5.4" stroke="#555" stroke-width="0.85" fill="none"/>
<rect x="161.20" y="861.80" width="5.4" height="5.4" stroke="#555" stroke-width="0.85" fill="none"/>
<rect x="166.30" y="861.10" width="5.4" height="5.4" stroke="#555" stroke-width="0.85" fill="none"/>
<rect x="187.40" y="865.50" width="5.4" height="5.4" stroke="#555" stroke-width="0.85" fill="none"/>
<path d="M166.60 788.70H172.40M169.50 785.80V791.60" stroke="#222" stroke-width="0.9" fill="none"/>
<path d="M155.60 813.10H161.40M158.50 810.20V816.00" stroke="#222" stroke-width="0.9" fill="none"/>
<path d="M212.10 828.70H217.90M215.00 825.80V831.60" stroke="#222" stroke-width="0.9" fill="none"/>
<path d="M214.50 854.60H220.30M217.40 851.70V857.50" stroke="#222" stroke-width="0.9" fill="none"/>
<path d="M214.50 864.80H220.30M217.40 861.90V867.70" stroke="#222" stroke-width="0.9" fill="none"/>
<path d="M205.20 857.20L210.80 862.80M205.20 862.80L210.80 857.20" stroke="#2a2a2a" stroke-width="0.95" fill="none"/>
<path d="M243.60 893.00L249.20 898.60M243.60 898.60L249.20 893.00" stroke="#2a2a2a" stroke-width="0.95" fill="none"/>
<path d="M196.60 877.30L202.20 882.90M196.60 882.90L202.20 877.30M199.40 877.30V882.90" stroke="#222" stroke-width="0.9" fill="none"/>
<path d="M210.60 877.10L216.20 882.70M210.60 882.70L216.20 877.10M213.40 877.10V882.70" stroke="#222" stroke-width="0.9" fill="none"/>
<path d="M203.20 886.00L208.80 891.60M203.20 891.60L208.80 886.00M206.00 886.00V891.60" stroke="#222" stroke-width="0.9" fill="none"/>
<rect x="224.80" y="816.20" width="6" height="1.6" fill="#000"/>
<rect x="261.70" y="817.90" width="6" height="1.6" fill="#000"/>
<rect x="286.10" y="814.50" width="6" height="1.6" fill="#000"/>
<rect x="234.60" y="828.10" width="6" height="1.6" fill="#000"/>
<rect x="252.80" y="840.10" width="6" height="1.6" fill="#000"/>
<rect x="251.50" y="852.80" width="6" height="1.6" fill="#000"/>
<rect x="210.90" y="851.00" width="6" height="1.6" fill="#000"/>
<g fill="#000"><rect x="258.85" y="805.05" width="2.55" height="2.55"/><rect x="258.85" y="808.40" width="2.55" height="2.55"/><rect x="262.20" y="805.05" width="2.55" height="2.55"/><rect x="262.20" y="808.40" width="2.55" height="2.55"/></g>
<g fill="#000"><rect x="254.75" y="821.85" width="2.55" height="2.55"/><rect x="254.75" y="825.20" width="2.55" height="2.55"/><rect x="258.10" y="821.85" width="2.55" height="2.55"/><rect x="258.10" y="825.20" width="2.55" height="2.55"/></g>
<g fill="#000"><rect x="260.95" y="867.55" width="2.55" height="2.55"/><rect x="260.95" y="870.90" width="2.55" height="2.55"/><rect x="264.30" y="867.55" width="2.55" height="2.55"/><rect x="264.30" y="870.90" width="2.55" height="2.55"/></g>
<g fill="#000"><rect x="263.85" y="885.85" width="2.55" height="2.55"/><rect x="263.85" y="889.20" width="2.55" height="2.55"/><rect x="267.20" y="885.85" width="2.55" height="2.55"/><rect x="267.20" y="889.20" width="2.55" height="2.55"/></g>
<g fill="#000"><rect x="254.05" y="890.95" width="2.55" height="2.55"/><rect x="254.05" y="894.30" width="2.55" height="2.55"/><rect x="257.40" y="890.95" width="2.55" height="2.55"/><rect x="257.40" y="894.30" width="2.55" height="2.55"/></g>
<path d="M243.50 695.60L246.60 701.34L240.40 701.34Z" fill="#000"/>
<path d="M209.60 720.70L212.70 726.43L206.50 726.43Z" fill="#000"/>
<circle cx="168.80" cy="776.60" r="2.9" fill="#000"/>
<circle cx="164.60" cy="823.30" r="2.9" fill="#000"/>
<circle cx="183.90" cy="849.80" r="2.9" fill="#000"/>
<circle cx="168.20" cy="866.30" r="2.9" fill="#000"/>
<circle cx="193.80" cy="868.50" r="2.9" fill="#000"/>
<path d="M186.00 684.30L189.30 687.60L186.00 690.90L182.70 687.60Z" fill="#000"/>
<path d="M181.20 690.30L184.50 693.60L181.20 696.90L177.90 693.60Z" fill="#000"/>
<path d="M175.30 698.90L178.60 702.20L175.30 705.50L172.00 702.20Z" fill="#000"/>
<path d="M200.60 691.30L203.90 694.60L200.60 697.90L197.30 694.60Z" fill="#000"/>
<path d="M214.00 690.60L217.30 693.90L214.00 697.20L210.70 693.90Z" fill="#000"/>
<path d="M211.40 693.50L214.70 696.80L211.40 700.10L208.10 696.80Z" fill="#000"/>
<path d="M222.80 711.00L226.10 714.30L222.80 717.60L219.50 714.30Z" fill="#000"/>
<path d="M177.50 722.00L180.80 725.30L177.50 728.60L174.20 725.30Z" fill="#000"/>
<path d="M211.00 795.80L205.30 726.00M203.12 731.05L205.30 726.00L208.27 730.63" stroke="#000" stroke-width="1.15" fill="none" stroke-linejoin="miter"/>
<path d="M211.00 795.80L190.90 844.70M195.13 841.19L190.90 844.70L190.36 839.23" stroke="#000" stroke-width="1.15" fill="none" stroke-linejoin="miter"/>
<text x="194.95" y="720.94" font-family="Liberation Sans, Arial, sans-serif" font-size="9" font-weight="bold">R<tspan font-size="6.12" dy="2.16">5</tspan></text>
<text x="165.75" y="841.44" font-family="Liberation Sans, Arial, sans-serif" font-size="9" font-weight="bold">R<tspan font-size="6.12" dy="2.16">2,3</tspan></text>
<text x="387.00" y="916.00" text-anchor="middle" font-family="Liberation Sans, Arial, sans-serif" font-size="7" font-weight="bold">-1.5</text>
<text x="435.08" y="916.00" text-anchor="middle" font-family="Liberation Sans, Arial, sans-serif" font-size="7" font-weight="bold">-1</text>
<text x="483.17" y="916.00" text-anchor="middle" font-family="Liberation Sans, Arial, sans-serif" font-size="7" font-weight="bold">-0.5</text>
<text x="531.25" y="916.00" text-anchor="middle" font-family="Liberation Sans, Arial, sans-serif" font-size="7" font-weight="bold">0</text>
<text x="579.33" y="916.00" text-anchor="middle" font-family="Liberation Sans, Arial, sans-serif" font-size="7" font-weight="bold">0.5</text>
<text x="627.42" y="916.00" text-anchor="middle" font-family="Liberation Sans, Arial, sans-serif" font-size="7" font-weight="bold">1</text>
<text x="675.50" y="916.00" text-anchor="middle" font-family="Liberation Sans, Arial, sans-serif" font-size="7" font-weight="bold">1.5</text>
<text x="380.00" y="635.90" text-anchor="end" font-family="Liberation Sans, Arial, sans-serif" font-size="7" font-weight="bold">1.5</text>
<text x="380.00" y="680.85" text-anchor="end" font-family="Liberation Sans, Arial, sans-serif" font-size="7" font-weight="bold">1</text>
<text x="380.00" y="725.80" text-anchor="end" font-family="Liberation Sans, Arial, sans-serif" font-size="7" font-weight="bold">0.5</text>
<text x="380.00" y="770.75" text-anchor="end" font-family="Liberation Sans, Arial, sans-serif" font-size="7" font-weight="bold">0</text>
<text x="380.00" y="815.70" text-anchor="end" font-family="Liberation Sans, Arial, sans-serif" font-size="7" font-weight="bold">-0.5</text>
<text x="380.00" y="860.65" text-anchor="end" font-family="Liberation Sans, Arial, sans-serif" font-size="7" font-weight="bold">-1</text>
<text x="380.00" y="905.60" text-anchor="end" font-family="Liberation Sans, Arial, sans-serif" font-size="7" font-weight="bold">-1.5</text>
<path d="M387.00 633.40H675.50" stroke="#858585" stroke-width="1.3" fill="none"/>
<path d="M675.50 632.80V903.10" stroke="#474747" stroke-width="1.3" fill="none"/>
<path d="M387.00 632.80V903.10H676.10" stroke="#1a1a1a" stroke-width="1.3" fill="none"/>
<text x="394.2" y="657.8" font-family="Liberation Sans, Arial, sans-serif" font-size="25" font-weight="bold">e</text>
<text x="531.3" y="930.5" text-anchor="middle" font-family="Liberation Sans, Arial, sans-serif" font-size="11.4" font-weight="bold" textLength="76.4" lengthAdjust="spacingAndGlyphs">Axis II (24.7%)</text>
<text transform="translate(363.50 768.20) rotate(-90)" x="0" y="0" text-anchor="middle" font-family="Liberation Sans, Arial, sans-serif" font-size="11.4" font-weight="bold" textLength="80.7" lengthAdjust="spacingAndGlyphs">Axis III (14.1%)</text>
<circle cx="596.90" cy="727.00" r="2.2" stroke="#444" stroke-width="0.8" fill="none"/>
<circle cx="609.30" cy="845.10" r="3.05" fill="#111"/><path d="M607.40 843.20L611.20 847.00M607.40 847.00L611.20 843.20" stroke="#fff" stroke-width="0.7"/>
<circle cx="617.40" cy="853.00" r="3.05" fill="#111"/><path d="M615.50 851.10L619.30 854.90M615.50 854.90L619.30 851.10" stroke="#fff" stroke-width="0.7"/>
<path d="M468.50 781.00L471.40 783.90L468.50 786.80L465.60 783.90Z" stroke="#333" stroke-width="0.85" fill="#fff"/>
<path d="M478.10 801.00L481.00 803.90L478.10 806.80L475.20 803.90Z" stroke="#333" stroke-width="0.85" fill="#fff"/>
<circle cx="451.80" cy="748.90" r="2.75" stroke="#444" stroke-width="0.85" fill="none"/>
<circle cx="456.20" cy="758.40" r="2.75" stroke="#444" stroke-width="0.85" fill="none"/>
<circle cx="487.60" cy="758.10" r="2.75" stroke="#444" stroke-width="0.85" fill="none"/>
<circle cx="443.80" cy="770.00" r="2.75" stroke="#444" stroke-width="0.85" fill="none"/>
<circle cx="436.80" cy="773.20" r="2.75" stroke="#444" stroke-width="0.85" fill="none"/>
<circle cx="476.60" cy="772.70" r="2.75" stroke="#444" stroke-width="0.85" fill="none"/>
<circle cx="488.60" cy="771.80" r="2.75" stroke="#444" stroke-width="0.85" fill="none"/>
<path d="M458.20 755.50L461.10 760.87L455.30 760.87Z" stroke="#333" stroke-width="0.85" fill="none"/>
<path d="M465.00 760.60L467.90 765.97L462.10 765.97Z" stroke="#333" stroke-width="0.85" fill="none"/>
<path d="M449.00 791.10L451.90 796.47L446.10 796.47Z" stroke="#333" stroke-width="0.85" fill="none"/>
<path d="M545.50 779.90L548.40 785.26L542.60 785.26Z" stroke="#333" stroke-width="0.85" fill="none"/>
<path d="M502.90 823.20L505.80 828.57L500.00 828.57Z" stroke="#333" stroke-width="0.85" fill="none"/>
<rect x="609.60" y="753.20" width="5.4" height="5.4" stroke="#555" stroke-width="0.85" fill="none"/>
<rect x="621.20" y="773.90" width="5.4" height="5.4" stroke="#555" stroke-width="0.85" fill="none"/>
<rect x="625.60" y="777.00" width="5.4" height="5.4" stroke="#555" stroke-width="0.85" fill="none"/>
<rect x="607.60" y="789.60" width="5.4" height="5.4" stroke="#555" stroke-width="0.85" fill="none"/>
<rect x="618.60" y="802.30" width="5.4" height="5.4" stroke="#555" stroke-width="0.85" fill="none"/>
<rect x="608.80" y="808.50" width="5.4" height="5.4" stroke="#555" stroke-width="0.85" fill="none"/>
<path d="M539.90 716.50H545.70M542.80 713.60V719.40" stroke="#222" stroke-width="0.9" fill="none"/>
<path d="M531.80 721.60H537.60M534.70 718.70V724.50" stroke="#222" stroke-width="0.9" fill="none"/>
<path d="M517.50 737.30H523.30M520.40 734.40V740.20" stroke="#222" stroke-width="0.9" fill="none"/>
<path d="M506.60 790.50H512.40M509.50 787.60V793.40" stroke="#222" stroke-width="0.9" fill="none"/>
<path d="M540.80 791.50H546.60M543.70 788.60V794.40" stroke="#222" stroke-width="0.9" fill="none"/>
<path d="M571.40 685.70L577.00 691.30M571.40 691.30L577.00 685.70" stroke="#2a2a2a" stroke-width="0.95" fill="none"/>
<path d="M579.50 738.90L585.10 744.50M579.50 744.50L585.10 738.90" stroke="#2a2a2a" stroke-width="0.95" fill="none"/>
<path d="M590.60 724.20L596.20 729.80M590.60 729.80L596.20 724.20M593.40 724.20V729.80" stroke="#222" stroke-width="0.9" fill="none"/>
<path d="M597.60 724.20L603.20 729.80M597.60 729.80L603.20 724.20M600.40 724.20V729.80" stroke="#222" stroke-width="0.9" fill="none"/>
<path d="M598.10 735.30L603.70 740.90M598.10 740.90L603.70 735.30M600.90 735.30V740.90" stroke="#222" stroke-width="0.9" fill="none"/>
<rect x="524.00" y="706.20" width="6" height="1.6" fill="#000"/>
<rect x="566.10" y="712.50" width="6" height="1.6" fill="#000"/>
<rect x="558.50" y="718.80" width="6" height="1.6" fill="#000"/>
<rect x="543.00" y="725.20" width="6" height="1.6" fill="#000"/>
<rect x="566.60" y="741.60" width="6" height="1.6" fill="#000"/>
<rect x="590.90" y="748.20" width="6" height="1.6" fill="#000"/>
<rect x="568.80" y="757.70" width="6" height="1.6" fill="#000"/>
<g fill="#000"><rect x="548.85" y="669.85" width="2.55" height="2.55"/><rect x="548.85" y="673.20" width="2.55" height="2.55"/><rect x="552.20" y="669.85" width="2.55" height="2.55"/><rect x="552.20" y="673.20" width="2.55" height="2.55"/></g>
<g fill="#000"><rect x="554.45" y="674.55" width="2.55" height="2.55"/><rect x="554.45" y="677.90" width="2.55" height="2.55"/><rect x="557.80" y="674.55" width="2.55" height="2.55"/><rect x="557.80" y="677.90" width="2.55" height="2.55"/></g>
<g fill="#000"><rect x="533.95" y="680.15" width="2.55" height="2.55"/><rect x="533.95" y="683.50" width="2.55" height="2.55"/><rect x="537.30" y="680.15" width="2.55" height="2.55"/><rect x="537.30" y="683.50" width="2.55" height="2.55"/></g>
<g fill="#000"><rect x="508.45" y="707.85" width="2.55" height="2.55"/><rect x="508.45" y="711.20" width="2.55" height="2.55"/><rect x="511.80" y="707.85" width="2.55" height="2.55"/><rect x="511.80" y="711.20" width="2.55" height="2.55"/></g>
<g fill="#000"><rect x="491.35" y="712.55" width="2.55" height="2.55"/><rect x="491.35" y="715.90" width="2.55" height="2.55"/><rect x="494.70" y="712.55" width="2.55" height="2.55"/><rect x="494.70" y="715.90" width="2.55" height="2.55"/></g>
<path d="M433.40 783.70L436.50 789.43L430.30 789.43Z" fill="#000"/>
<path d="M457.00 793.10L460.10 798.84L453.90 798.84Z" fill="#000"/>
<circle cx="610.80" cy="753.40" r="2.9" fill="#000"/>
<circle cx="608.50" cy="773.70" r="2.9" fill="#000"/>
<circle cx="625.20" cy="775.30" r="2.9" fill="#000"/>
<circle cx="592.80" cy="799.60" r="2.9" fill="#000"/>
<circle cx="578.20" cy="825.20" r="2.9" fill="#000"/>
<path d="M448.30 788.50L451.60 791.80L448.30 795.10L445.00 791.80Z" fill="#000"/>
<path d="M450.40 809.60L453.70 812.90L450.40 816.20L447.10 812.90Z" fill="#000"/>
<path d="M457.70 820.30L461.00 823.60L457.70 826.90L454.40 823.60Z" fill="#000"/>
<path d="M479.10 818.80L482.40 822.10L479.10 825.40L475.80 822.10Z" fill="#000"/>
<path d="M466.70 837.50L470.00 840.80L466.70 844.10L463.40 840.80Z" fill="#000"/>
<path d="M469.90 837.10L473.20 840.40L469.90 843.70L466.60 840.40Z" fill="#000"/>
<path d="M471.40 834.60L474.70 837.90L471.40 841.20L468.10 837.90Z" fill="#000"/>
<path d="M532.30 769.80L561.50 771.90M556.84 768.98L561.50 771.90L556.47 774.13" stroke="#000" stroke-width="1.15" fill="none" stroke-linejoin="miter"/>
<path d="M532.30 769.80L492.60 784.30M498.05 785.06L492.60 784.30L496.28 780.21" stroke="#000" stroke-width="1.15" fill="none" stroke-linejoin="miter"/>
<text x="565.70" y="775.40" font-family="Liberation Sans, Arial, sans-serif" font-size="8.6" font-weight="bold">D<tspan font-size="5.85" dy="2.06">1</tspan></text>
<text x="479.40" y="788.50" font-family="Liberation Sans, Arial, sans-serif" font-size="8.6" font-weight="bold">D<tspan font-size="5.85" dy="2.06">2</tspan></text>
<g fill="#000"><rect x="78.15" y="944.05" width="2.55" height="2.55"/><rect x="78.15" y="947.40" width="2.55" height="2.55"/><rect x="81.50" y="944.05" width="2.55" height="2.55"/><rect x="81.50" y="947.40" width="2.55" height="2.55"/></g>
<text x="85" y="949.90" font-family="Liberation Sans, Arial, sans-serif" font-size="8.3" font-weight="bold" font-style="italic">Carex pumila</text>
<path d="M78.20 961.00H84.00M81.10 958.10V963.90" stroke="#222" stroke-width="0.9" fill="none"/>
<text x="85" y="963.90" font-family="Liberation Sans, Arial, sans-serif" font-size="8.3" font-weight="bold" font-style="italic">Artemisia princeps</text>
<rect x="78.10" y="974.80" width="6" height="1.6" fill="#000"/>
<text x="85" y="978.50" font-family="Liberation Sans, Arial, sans-serif" font-size="8.3" font-weight="bold" font-style="italic">Sedum oryzifolium</text>
<path d="M78.80 987.10L83.40 991.70M78.80 991.70L83.40 987.10" stroke="#2a2a2a" stroke-width="0.95" fill="none"/>
<text x="85" y="992.30" font-family="Liberation Sans, Arial, sans-serif" font-size="8.3" font-weight="bold" font-style="italic">Rosa wichuraiana-Plantago lanceolata</text>
<path d="M244.80 945.50L247.70 950.87L241.90 950.87Z" stroke="#333" stroke-width="0.85" fill="none"/>
<text x="248.6" y="951.30" font-family="Liberation Sans, Arial, sans-serif" font-size="8.3" font-weight="bold" font-style="italic">Pinus thunbergii</text>
<path d="M244.80 959.30L247.90 965.03L241.70 965.03Z" fill="#000"/>
<text x="248.6" y="965.30" font-family="Liberation Sans, Arial, sans-serif" font-size="8.3" font-weight="bold" font-style="italic">Zelkova serrata</text>
<circle cx="244.80" cy="976.60" r="2.75" stroke="#444" stroke-width="0.85" fill="none"/>
<text x="248.6" y="979.50" font-family="Liberation Sans, Arial, sans-serif" font-size="8.3" font-weight="bold" font-style="italic">Koelreuteria paniculata</text>
<circle cx="350.80" cy="947.00" r="2.9" fill="#000"/>
<text x="355" y="949.90" font-family="Liberation Sans, Arial, sans-serif" font-size="8.3" font-weight="bold" font-style="italic">Aster spathulifolius</text>
<path d="M348.50 958.70L353.10 963.30M348.50 963.30L353.10 958.70" stroke="#2a2a2a" stroke-width="0.95" fill="none"/>
<text x="355" y="963.90" font-family="Liberation Sans, Arial, sans-serif" font-size="8.3" font-weight="bold" font-style="italic">Rosa wichuraiana-Calystegia soldanella</text>
<rect x="348.40" y="973.10" width="5" height="5" stroke="#444" stroke-width="0.85" fill="none"/>
<text x="355" y="978.50" font-family="Liberation Sans, Arial, sans-serif" font-size="8.3" font-weight="bold" font-style="italic">Aster spathulifolius-Plantago lanceolata</text>
<g transform="translate(528.50 945.40) scale(0.85) translate(-528.30 -945.40)"><circle cx="528.30" cy="945.40" r="3.05" fill="#111"/><path d="M526.40 943.50L530.20 947.30M526.40 947.30L530.20 943.50" stroke="#fff" stroke-width="0.7"/></g>
<text x="532.4" y="948.30" font-family="Liberation Sans, Arial, sans-serif" font-size="8.3" font-weight="bold" font-style="italic">Vitex rotundifolia</text>
<path d="M528.60 957.10L531.50 960.00L528.60 962.90L525.70 960.00Z" stroke="#333" stroke-width="0.85" fill="#fff"/>
<text x="532.4" y="962.90" font-family="Liberation Sans, Arial, sans-serif" font-size="8.3" font-weight="bold" font-style="italic">Celtis sinensis</text>
<path d="M528.60 970.70L531.90 974.00L528.60 977.30L525.30 974.00Z" fill="#000"/>
<text x="532.4" y="976.90" font-family="Liberation Sans, Arial, sans-serif" font-size="8.3" font-weight="bold" font-style="italic">Quercus dentata</text>
</svg></body></html>
